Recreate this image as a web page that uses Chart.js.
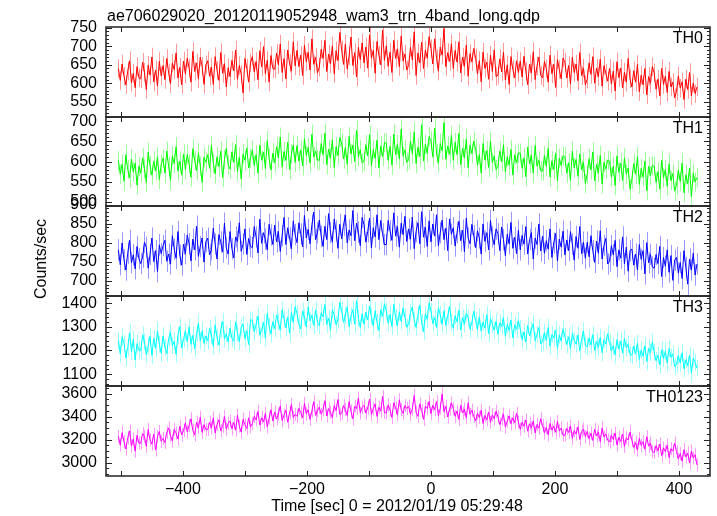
<!DOCTYPE html>
<html>
<head>
<meta charset="utf-8">
<script src="https://cdn.jsdelivr.net/npm/chart.js@4.4.1/dist/chart.umd.min.js"></script>
<style>
body { margin: 0; background: #fff; }
#wrap { position: relative; width: 717px; height: 516px; font-family: "Liberation Sans", Arial, sans-serif; color: #000; overflow: hidden; }
#wrap canvas { position: absolute; left: 0; top: 0; }
.lbl { position: absolute; font-size: 16px; line-height: 16px; white-space: nowrap; }
</style>
</head>
<body>
<div id="wrap">
  <canvas id="c0" width="717" height="516"></canvas>
  <canvas id="c1" width="717" height="516"></canvas>
  <canvas id="c2" width="717" height="516"></canvas>
  <canvas id="c3" width="717" height="516"></canvas>
  <canvas id="c4" width="717" height="516"></canvas>
  <div class="lbl" style="left:107px; top:8px">ae706029020_20120119052948_wam3_trn_4band_long.qdp</div>
  <div class="lbl" style="left:41px; top:259px; transform: translate(-50%, -50%) rotate(-90deg)">Counts/sec</div>
  <div class="lbl" style="left:397px; top:506px; transform: translate(-50%, -50%)">Time [sec] 0 = 2012/01/19 05:29:48</div>
  <div class="lbl" style="right:14px; top:30px">TH0</div>
  <div class="lbl" style="right:14px; top:120px">TH1</div>
  <div class="lbl" style="right:14px; top:209px">TH2</div>
  <div class="lbl" style="right:14px; top:299px">TH3</div>
  <div class="lbl" style="right:14px; top:389px">TH0123</div>
</div>
<script>
// time bins [sec], 0 = 2012/01/19 05:29:48
const times = [
  -504,-501,-498,-495,-492,-489,-486,-483,-480,-477,-474,-471,
  -468,-465,-462,-459,-456,-453,-450,-447,-444,-441,-438,-435,
  -432,-429,-426,-423,-420,-417,-414,-411,-408,-405,-402,-399,
  -396,-393,-390,-387,-384,-381,-378,-375,-372,-369,-366,-363,
  -360,-357,-354,-351,-348,-345,-342,-339,-336,-333,-330,-327,
  -324,-321,-318,-315,-312,-309,-306,-303,-300,-297,-294,-291,
  -288,-285,-282,-279,-276,-273,-270,-267,-264,-261,-258,-255,
  -252,-249,-246,-243,-240,-237,-234,-231,-228,-225,-222,-219,
  -216,-213,-210,-207,-204,-201,-198,-195,-192,-189,-186,-183,
  -180,-177,-174,-171,-168,-165,-162,-159,-156,-153,-150,-147,
  -144,-141,-138,-135,-132,-129,-126,-123,-120,-117,-114,-111,
  -108,-105,-102,-99,-96,-93,-90,-87,-84,-81,-78,-75,
  -72,-69,-66,-63,-60,-57,-54,-51,-48,-45,-42,-39,
  -36,-33,-30,-27,-24,-21,-18,-15,-12,-9,-6,-3,
  0,3,6,9,12,15,18,21,24,27,30,33,
  36,39,42,45,48,51,54,57,60,63,66,69,
  72,75,78,81,84,87,90,93,96,99,102,105,
  108,111,114,117,120,123,126,129,132,135,138,141,
  144,147,150,153,156,159,162,165,168,171,174,177,
  180,183,186,189,192,195,198,201,204,207,210,213,
  216,219,222,225,228,231,234,237,240,243,246,249,
  252,255,258,261,264,267,270,273,276,279,282,285,
  288,291,294,297,300,303,306,309,312,315,318,321,
  324,327,330,333,336,339,342,345,348,351,354,357,
  360,363,366,369,372,375,378,381,384,387,390,393,
  396,399,402,405,408,411,414,417,420,423,426,429
];

const th0 = [
  640,608,652,619,596,633,661,601,627,588,645,615,
  612,657,630,583,649,622,671,604,636,592,659,620,
  648,610,667,628,599,655,637,682,614,643,596,660,
  625,668,641,603,686,632,655,612,671,646,597,650,
  661,619,644,597,672,635,608,683,627,653,590,642,
  618,662,634,690,611,648,625,574,667,641,603,655,
  672,631,659,610,688,644,699,626,662,603,675,640,
  638,681,650,706,629,667,612,690,654,633,712,647,
  689,645,676,621,703,658,684,636,720,651,670,628,
  644,692,667,716,632,679,653,701,626,688,661,737,
  690,651,706,639,674,725,648,683,617,697,664,709,
  655,698,641,731,668,689,627,713,676,650,744,662,
  701,646,684,629,716,667,693,645,728,660,679,636,
  648,697,663,739,621,682,655,711,640,690,668,726,
  694,652,720,667,633,698,676,748,645,683,659,707,
  640,689,657,712,628,671,646,703,619,680,658,694,
  669,625,661,604,684,640,657,611,676,632,690,618,
  622,666,631,684,609,650,597,672,638,615,661,629,
  660,617,673,633,596,652,628,685,610,647,671,621,
  615,659,640,603,676,626,651,589,664,637,612,668,
  657,614,648,598,670,629,652,607,683,621,641,596,
  611,655,624,672,600,641,618,665,592,648,627,606,
  640,598,633,579,658,615,641,588,630,603,667,612,
  590,634,603,651,577,622,596,640,569,618,600,645,
  628,584,611,566,640,597,619,575,632,590,603,561,
  578,620,587,604,556,611,583,629,566,601,572,590
];

const th1 = [
  602,568,593,551,617,580,559,606,574,596,541,588,
  571,609,582,548,623,590,566,601,577,612,555,593,
  608,571,626,588,553,614,595,637,576,601,566,619,
  580,618,594,561,632,603,577,621,589,548,611,598,
  617,583,640,596,569,612,587,626,560,605,633,591,
  581,624,598,642,575,611,556,619,603,634,584,608,
  629,590,617,571,641,603,624,583,652,608,579,621,
  596,637,609,661,587,625,603,648,580,619,641,598,
  640,601,629,589,657,615,635,596,668,611,626,604,
  603,645,617,671,592,631,608,654,585,637,615,660,
  647,606,635,593,662,619,641,600,678,612,630,596,
  601,642,614,667,589,630,608,653,584,639,612,647,
  646,603,638,591,668,617,642,606,681,613,629,598,
  604,651,619,674,595,636,612,692,601,643,620,662,
  652,611,683,620,596,645,627,697,606,639,618,665,
  603,648,617,670,592,633,609,656,585,641,620,651,
  632,590,618,571,645,603,627,585,651,597,614,580,
  588,626,599,642,574,612,591,630,566,617,597,621,
  621,583,609,562,636,594,615,571,640,588,603,577,
  576,615,588,633,561,602,580,621,552,608,590,614,
  611,571,597,553,626,584,605,563,619,579,598,545,
  568,607,579,624,552,593,572,615,544,598,581,603,
  601,561,588,540,614,573,596,553,609,568,584,531,
  556,595,568,612,543,583,561,601,527,588,565,590,
  588,548,575,531,603,559,580,538,594,552,570,526,
  541,579,550,596,522,567,545,584,512,571,549,560
];

const th2 = [
  781,742,799,755,728,772,806,747,768,731,790,758,
  745,762,801,788,733,769,812,750,779,724,794,771,
  792,806,751,770,744,818,783,759,829,767,741,796,
  771,820,797,752,809,781,843,764,790,812,749,803,
  812,768,781,838,796,757,821,802,775,851,786,770,
  829,784,760,815,803,852,777,796,836,769,811,790,
  787,842,815,773,861,798,826,809,781,848,820,795,
  846,802,829,777,818,866,795,839,812,784,857,821,
  800,852,823,789,871,812,835,797,846,880,808,826,
  859,817,790,843,808,876,826,801,862,831,785,848,
  810,846,872,799,833,818,884,805,851,827,792,866,
  847,801,829,864,786,839,815,873,808,858,823,795,
  795,858,831,806,878,817,842,788,851,821,869,803,
  836,809,867,784,829,852,797,881,814,840,790,857,
  802,849,817,873,792,826,859,808,838,779,862,822,
  839,791,826,856,805,833,776,864,812,797,848,818,
  787,831,812,770,849,803,826,781,858,815,794,836,
  824,779,841,808,766,822,797,853,785,814,771,832,
  781,819,796,842,770,808,826,757,812,795,849,778,
  817,772,805,783,836,761,799,824,752,809,788,830,
  768,807,779,829,796,754,816,785,842,771,801,759,
  801,763,818,779,748,804,772,831,757,793,811,744,
  751,792,768,806,737,781,759,815,744,788,725,779,
  783,741,770,728,795,756,779,718,800,747,769,736,
  733,769,745,790,711,761,738,781,722,766,701,754,
  761,720,748,706,779,735,691,757,728,772,715,744
];

const th3 = [
  1243,1186,1258,1231,1169,1212,1275,1194,1247,1160,1229,1202,
  1198,1266,1237,1182,1218,1260,1179,1251,1209,1283,1226,1188,
  1262,1214,1187,1251,1276,1220,1239,1185,1264,1301,1210,1248,
  1281,1237,1299,1226,1264,1208,1272,1315,1241,1283,1230,1261,
  1240,1293,1265,1218,1308,1254,1223,1289,1322,1248,1271,1236,
  1294,1251,1239,1322,1273,1236,1298,1311,1249,1283,1225,1330,
  1327,1278,1309,1345,1264,1288,1318,1252,1358,1301,1270,1322,
  1292,1350,1321,1286,1372,1334,1296,1342,1272,1361,1318,1385,
  1356,1310,1291,1367,1340,1299,1384,1325,1349,1305,1372,1318,
  1305,1359,1342,1394,1310,1337,1286,1372,1351,1309,1330,1403,
  1368,1318,1350,1384,1301,1345,1372,1311,1410,1336,1297,1355,
  1311,1362,1329,1389,1343,1304,1368,1320,1284,1372,1345,1397,
  1369,1315,1352,1300,1395,1338,1304,1363,1322,1380,1341,1298,
  1312,1360,1384,1328,1298,1351,1392,1317,1279,1355,1331,1401,
  1366,1313,1339,1297,1380,1352,1310,1368,1305,1346,1386,1318,
  1295,1347,1321,1370,1286,1340,1312,1358,1338,1289,1318,1366,
  1327,1289,1342,1281,1320,1296,1351,1270,1334,1311,1285,1323,
  1268,1317,1301,1339,1260,1310,1285,1328,1253,1308,1289,1325,
  1291,1245,1278,1236,1306,1262,1287,1314,1241,1268,1297,1227,
  1237,1275,1243,1297,1218,1268,1252,1286,1209,1266,1239,1292,
  1261,1225,1258,1207,1273,1243,1227,1265,1198,1247,1282,1221,
  1216,1253,1224,1267,1198,1239,1213,1255,1190,1246,1227,1271,
  1235,1198,1220,1181,1246,1206,1240,1188,1251,1211,1226,1183,
  1180,1218,1187,1231,1162,1202,1176,1220,1153,1209,1191,1236,
  1193,1157,1180,1139,1204,1166,1198,1147,1209,1171,1186,1132,
  1141,1178,1147,1191,1123,1162,1136,1179,1104,1168,1150,1126
];

const th0123 = [
  3228,3152,3261,3180,3118,3214,3276,3143,3205,3098,3238,3170,
  3167,3252,3229,3141,3288,3196,3160,3247,3109,3226,3270,3185,
  3210,3174,3262,3301,3232,3188,3290,3256,3205,3317,3241,3279,
  3346,3268,3322,3381,3279,3240,3352,3301,3395,3262,3330,3288,
  3287,3350,3301,3389,3258,3332,3371,3276,3315,3402,3290,3341,
  3362,3294,3348,3281,3410,3317,3265,3376,3330,3296,3389,3310,
  3338,3402,3371,3445,3326,3390,3352,3428,3311,3385,3460,3362,
  3440,3378,3423,3492,3366,3411,3455,3350,3431,3506,3392,3419,
  3402,3471,3437,3389,3515,3422,3460,3375,3448,3530,3410,3451,
  3482,3421,3459,3538,3405,3470,3437,3390,3496,3452,3548,3416,
  3428,3496,3461,3410,3531,3447,3380,3489,3470,3562,3433,3478,
  3499,3430,3475,3552,3418,3468,3509,3401,3481,3447,3575,3436,
  3431,3501,3458,3392,3520,3477,3415,3546,3460,3428,3497,3470,
  3489,3420,3466,3584,3437,3403,3511,3452,3375,3490,3470,3532,
  3425,3498,3460,3531,3408,3471,3597,3442,3489,3396,3465,3518,
  3470,3402,3449,3375,3498,3431,3466,3389,3520,3418,3455,3401,
  3362,3429,3391,3456,3340,3410,3372,3438,3350,3415,3381,3447,
  3398,3331,3376,3422,3309,3360,3405,3338,3390,3346,3428,3352,
  3289,3351,3316,3370,3273,3338,3302,3362,3258,3331,3299,3380,
  3322,3258,3305,3241,3340,3282,3316,3264,3358,3275,3300,3237,
  3238,3297,3261,3318,3210,3279,3248,3310,3201,3272,3291,3226,
  3270,3207,3255,3192,3289,3231,3265,3182,3301,3222,3248,3196,
  3178,3236,3201,3257,3152,3220,3183,3248,3140,3215,3196,3264,
  3192,3131,3174,3108,3210,3149,3182,3117,3225,3142,3169,3096,
  3088,3147,3102,3160,3061,3128,3094,3152,3043,3121,3099,3169,
  3094,3031,3078,3012,3112,3049,3083,2998,3101,3040,3068,2980
];

// typical 1-sigma error per band
const errs = [25, 24, 28, 36, 57];

const series = [th0, th1, th2, th3, th0123];
const colors = ['#ff0000', '#00ff00', '#0000ff', '#00ffff', '#ff00ff'];
const lightColors = ['rgba(255,0,0,0.4)', 'rgba(0,255,0,0.4)', 'rgba(0,0,255,0.4)', 'rgba(0,255,255,0.4)', 'rgba(255,0,255,0.4)'];

// axis ranges and tick labels
const xRange = [-524, 450];
const xTickLabels = [-400, -200, 0, 200, 400];
const yRanges = [[509, 752], [489, 711], [660, 896], [1050, 1430], [2883, 3666]];
const yTickLabels = [
  [550, 600, 650, 700, 750],
  [500, 550, 600, 650, 700],
  [700, 750, 800, 850, 900],
  [1100, 1200, 1300, 1400],
  [3000, 3200, 3400, 3600]
];
const yTickSteps = [[10, 50], [10, 50], [10, 50], [20, 100], [50, 200]];

// panel placement
const panelTops = [27, 117, 206, 296, 386];
const panelBottoms = [117, 206, 296, 386, 476];

Chart.defaults.font.family = '"Liberation Sans", Arial, sans-serif';
Chart.defaults.font.size = 16;
Chart.defaults.color = '#000';

const framePlugin = {
  id: 'frame',
  beforeDatasetsDraw(chart, args, opts) {
    // error bars
    const { ctx, chartArea: a, scales: { x, y } } = chart;
    const vals = series[opts.k];
    const e = errs[opts.k];
    ctx.save();
    ctx.beginPath();
    ctx.rect(a.left, a.top, a.right - a.left, a.bottom - a.top);
    ctx.clip();
    ctx.strokeStyle = lightColors[opts.k];
    ctx.lineWidth = 1;
    ctx.beginPath();
    times.forEach((t, i) => {
      const px = Math.round(x.getPixelForValue(t)) + 0.5;
      ctx.moveTo(px, y.getPixelForValue(vals[i] - e));
      ctx.lineTo(px, y.getPixelForValue(vals[i] + e));
    });
    ctx.stroke();
    ctx.restore();
  },
  afterDraw(chart, args, opts) {
    const { ctx, chartArea: a, scales: { x, y } } = chart;
    ctx.save();
    ctx.strokeStyle = '#222';
    ctx.lineWidth = 1;
    ctx.beginPath();
    for (let v = -500; v <= 400; v += 100) {
      const px = Math.round(x.getPixelForValue(v)) + 0.5;
      ctx.moveTo(px, a.top); ctx.lineTo(px, a.top + 5);
      ctx.moveTo(px, a.bottom); ctx.lineTo(px, a.bottom - 5);
    }
    const [minor, major] = yTickSteps[opts.k];
    for (let v = Math.ceil(y.min / minor) * minor; v <= y.max; v += minor) {
      const len = v % major === 0 ? 6 : 3;
      const py = Math.round(y.getPixelForValue(v)) + 0.5;
      ctx.moveTo(a.left, py); ctx.lineTo(a.left + len, py);
      ctx.moveTo(a.right, py); ctx.lineTo(a.right - len, py);
    }
    ctx.stroke();
    ctx.lineWidth = 1.5;
    ctx.strokeRect(a.left, a.top, a.right - a.left, a.bottom - a.top);
    ctx.restore();
  }
};

function makePanel(k) {
  const isBottom = k === 4;
  return new Chart(document.getElementById('c' + k), {
    type: 'line',
    data: {
      datasets: [{
        data: times.map((t, i) => ({ x: t, y: series[k][i] })),
        borderColor: colors[k],
        borderWidth: 1,
        pointRadius: 0,
        tension: 0,
        clip: 0
      }]
    },
    options: {
      responsive: false,
      animation: false,
      events: [],
      layout: { padding: { top: panelTops[k], bottom: isBottom ? 0 : 516 - panelBottoms[k], left: 0, right: 7 } },
      plugins: { legend: { display: false }, tooltip: { enabled: false }, frame: { k: k } },
      scales: {
        x: {
          type: 'linear',
          display: isBottom,
          min: xRange[0],
          max: xRange[1],
          afterFit: s => { if (isBottom) s.height = 516 - panelBottoms[4]; },
          afterBuildTicks: s => { s.ticks = xTickLabels.map(v => ({ value: v })); },
          ticks: { autoSkip: false, maxRotation: 0, padding: 4, callback: v => String(v).replace('-', '\u2212') },
          grid: { display: false, drawTicks: false },
          border: { display: false }
        },
        y: {
          type: 'linear',
          min: yRanges[k][0],
          max: yRanges[k][1],
          afterFit: s => { s.width = 106; },
          afterBuildTicks: s => { s.ticks = yTickLabels[k].map(v => ({ value: v })); },
          ticks: { autoSkip: false, padding: 9, callback: v => String(v) },
          grid: { display: false, drawTicks: false },
          border: { display: false }
        }
      }
    },
    plugins: [framePlugin]
  });
}

[0, 1, 2, 3, 4].forEach(makePanel);
</script>
</body>
</html>
